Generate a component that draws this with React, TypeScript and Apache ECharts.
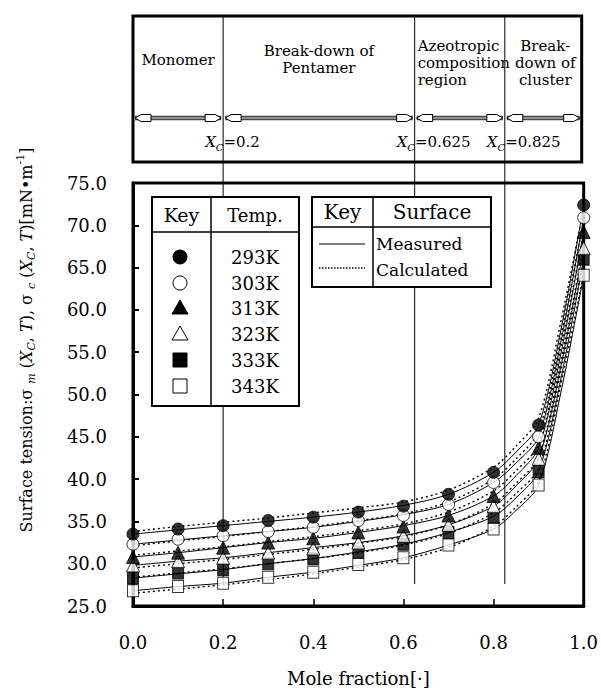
import React, { useEffect, useRef } from "react";
import * as echarts from "echarts";

// ---------- data ----------
const moleFraction = [0, 0.1, 0.2, 0.3, 0.4, 0.5, 0.6, 0.7, 0.8, 0.9, 1.0];
const curveFraction = [0, 0.1, 0.2, 0.3, 0.4, 0.5, 0.6, 0.7, 0.8, 0.85, 0.9, 0.95, 1.0];
const temperatures = ["293K", "303K", "313K", "323K", "333K", "343K"];

// measured points
const meas293 = [33.5, 34.1, 34.5, 35.1, 35.5, 36.1, 36.8, 38.2, 40.8, 46.4, 72.4];
const meas303 = [32.3, 32.9, 33.3, 33.8, 34.3, 35.1, 35.7, 37.0, 39.6, 45.0, 70.9];
const meas313 = [30.8, 31.3, 31.9, 32.5, 33.0, 33.7, 34.4, 35.7, 38.0, 43.7, 69.2];
const meas323 = [29.8, 30.3, 30.7, 31.3, 31.8, 32.5, 33.3, 34.6, 36.8, 42.4, 67.3];
const meas333 = [28.3, 28.9, 29.3, 30.0, 30.6, 31.4, 32.3, 33.7, 35.5, 40.9, 66.0];
const meas343 = [26.8, 27.3, 27.7, 28.4, 29.0, 29.9, 30.7, 32.2, 34.1, 39.3, 64.1];

// measured (solid) curves
const fit293 = [33.5, 34.0, 34.5, 35.0, 35.5, 36.1, 36.9, 38.2, 40.8, 43.2, 46.4, 57.8, 72.4];
const fit303 = [32.3, 32.8, 33.3, 33.8, 34.3, 35.0, 35.8, 37.0, 39.6, 41.9, 45.0, 56.4, 70.9];
const fit313 = [30.8, 31.3, 31.9, 32.5, 33.0, 33.7, 34.5, 35.7, 38.0, 40.4, 43.7, 55.0, 69.2];
const fit323 = [29.8, 30.3, 30.7, 31.3, 31.9, 32.5, 33.3, 34.6, 36.8, 39.2, 42.4, 53.5, 67.3];
const fit333 = [28.3, 28.8, 29.3, 30.0, 30.6, 31.4, 32.3, 33.7, 35.6, 37.8, 40.9, 52.0, 66.0];
const fit343 = [26.8, 27.3, 27.7, 28.4, 29.0, 29.8, 30.7, 32.2, 34.1, 36.3, 39.3, 50.4, 64.1];

// calculated (dotted) curves
const calc293 = [33.8, 34.4, 34.9, 35.4, 36.0, 36.6, 37.3, 38.7, 41.4, 43.9, 47.2, 58.8, 72.0];
const calc303 = [32.1, 32.7, 33.2, 33.8, 34.4, 35.1, 35.9, 37.3, 40.0, 42.4, 45.6, 57.2, 70.6];
const calc313 = [31.0, 31.5, 32.0, 32.6, 33.2, 33.9, 34.7, 36.1, 38.6, 41.0, 44.1, 55.8, 69.0];
const calc323 = [29.5, 30.0, 30.5, 31.1, 31.7, 32.4, 33.2, 34.6, 37.1, 39.5, 42.6, 54.2, 67.5];
const calc333 = [28.4, 28.9, 29.4, 30.0, 30.6, 31.3, 32.2, 33.6, 36.0, 38.3, 41.3, 52.9, 66.0];
const calc343 = [26.5, 27.0, 27.5, 28.1, 28.8, 29.6, 30.5, 31.9, 34.4, 36.7, 39.8, 51.3, 64.3];

const boundaries = [0.2, 0.625, 0.825];
const boundaryLabels = ["=0.2", "=0.625", "=0.825"];

const FONT = "DejaVu Serif";

export default function App() {
  const ref = useRef<HTMLDivElement>(null);

  useEffect(() => {
    const chart = echarts.init(ref.current!, undefined, { renderer: "svg" });

    const defs = [
      { name: temperatures[0], marks: meas293, fit: fit293, calc: calc293, symbol: "circle", filled: true, size: 12 },
      { name: temperatures[1], marks: meas303, fit: fit303, calc: calc303, symbol: "circle", filled: false, size: 12 },
      { name: temperatures[2], marks: meas313, fit: fit313, calc: calc313, symbol: "triangle", filled: true, size: 13 },
      { name: temperatures[3], marks: meas323, fit: fit323, calc: calc323, symbol: "triangle", filled: false, size: 13 },
      { name: temperatures[4], marks: meas333, fit: fit333, calc: calc333, symbol: "rect", filled: true, size: [11, 12] },
      { name: temperatures[5], marks: meas343, fit: fit343, calc: calc343, symbol: "rect", filled: false, size: [11, 12] },
    ];

    const series: any[] = [];
    defs.forEach((d) => {
      series.push({
        type: "line",
        name: d.name + " measured",
        data: curveFraction.map((x, i) => [x, d.fit[i]]),
        smooth: 0.3,
        symbol: "none",
        lineStyle: { color: "#000", width: 1 },
        z: 2,
        silent: true,
      });
      series.push({
        type: "line",
        name: d.name + " calculated",
        data: curveFraction.map((x, i) => [x, d.calc[i]]),
        smooth: 0.3,
        symbol: "none",
        lineStyle: { color: "#000", width: 1.4, type: [2, 3] },
        z: 2,
        silent: true,
      });
    });
    defs
      .slice()
      .reverse()
      .forEach((d) => {
        series.push({
          type: "scatter",
          name: d.name,
          data: moleFraction.map((x, i) => [x, d.marks[i]]),
          symbol: d.symbol,
          symbolSize: d.size,
          itemStyle: { color: d.filled ? "#000" : "#fff", borderColor: "#000", borderWidth: 1 },
          z: 3,
          clip: false,
          silent: true,
        });
      });

    chart.setOption({
      animation: false,
      backgroundColor: "#fff",
      textStyle: { fontFamily: FONT, color: "#000" },
      grid: {
        left: 133,
        right: 12,
        top: 183,
        bottom: 82,
        show: true,
        borderColor: "#000",
        borderWidth: 3,
        backgroundColor: "transparent",
      },
      xAxis: {
        type: "value",
        min: 0,
        max: 1,
        interval: 0.2,
        axisLine: { lineStyle: { color: "#000", width: 3 } },
        axisTick: { inside: true, length: 7, lineStyle: { color: "#000", width: 1.5 } },
        splitLine: { show: false },
        axisLabel: {
          margin: 27,
          fontSize: 18,
          fontFamily: FONT,
          color: "#000",
          formatter: (v: number) => v.toFixed(1),
        },
      },
      yAxis: {
        type: "value",
        min: 25,
        max: 75,
        interval: 5,
        axisLine: { show: true, lineStyle: { color: "#000", width: 3 } },
        axisTick: { show: true, inside: true, length: 6, lineStyle: { color: "#000", width: 2 } },
        splitLine: { show: false },
        axisLabel: {
          margin: 26,
          fontSize: 18,
          fontFamily: FONT,
          color: "#000",
          formatter: (v: number) => v.toFixed(1),
        },
      },
      series,
    });

    const px = (v: number) => chart.convertToPixel({ xAxisIndex: 0 }, v) as number;
    const x0 = px(0);
    const x1 = px(1) - 2;
    const bx = boundaries.map(px);
    const edges = [x0, ...bx, x1];
    const boxTop = 16;
    const boxBottom = 162;
    const arrowY = 118;

    const g: any[] = [];

    // vertical boundary lines
    bx.forEach((x) => {
      g.push({
        type: "line",
        z: 1,
        shape: { x1: x, y1: boxTop, x2: x, y2: 584 },
        style: { stroke: "#000", lineWidth: 1 },
        silent: true,
      });
    });

    // top box
    g.push({
      type: "rect",
      z: 5,
      shape: { x: x0, y: boxTop, width: x1 - x0, height: boxBottom - boxTop },
      style: { fill: "transparent", stroke: "#000", lineWidth: 3 },
      silent: true,
    });

    // double arrows
    for (let i = 0; i < edges.length - 1; i++) {
      const a = edges[i] + 2;
      const b = edges[i + 1] - 2;
      g.push({
        type: "line",
        z: 6,
        shape: { x1: a, y1: arrowY, x2: b, y2: arrowY },
        style: { stroke: "#444", lineWidth: 4.5 },
        silent: true,
      });
      g.push({
        type: "line",
        z: 6,
        shape: { x1: a, y1: arrowY, x2: b, y2: arrowY },
        style: { stroke: "#aaa", lineWidth: 1.5 },
        silent: true,
      });
      g.push({
        type: "polygon",
        z: 7,
        shape: { points: [[a, arrowY], [a + 6, arrowY - 3.5], [a + 16, arrowY - 3.5], [a + 16, arrowY + 3.5], [a + 6, arrowY + 3.5]] },
        style: { fill: "#fff", stroke: "#000", lineWidth: 1 },
        silent: true,
      });
      g.push({
        type: "polygon",
        z: 7,
        shape: { points: [[b, arrowY], [b - 6, arrowY - 3.5], [b - 16, arrowY - 3.5], [b - 16, arrowY + 3.5], [b - 6, arrowY + 3.5]] },
        style: { fill: "#fff", stroke: "#000", lineWidth: 1 },
        silent: true,
      });
    }

    const boxText = (text: string, x: number, y: number, align = "center") => ({
      type: "text",
      z: 8,
      x,
      y,
      style: {
        text,
        fontFamily: FONT,
        fontSize: 15,
        lineHeight: 17,
        fill: "#000",
        align,
        verticalAlign: "middle",
      },
      silent: true,
    });
    g.push(boxText("Monomer", (edges[0] + edges[1]) / 2, 60));
    g.push(boxText("Break-down of\nPentamer", (edges[1] + edges[2]) / 2, 59));
    g.push(boxText("Azeotropic\ncomposition\nregion", edges[2] + 3, 63, "left"));
    g.push(boxText("Break-\ndown of\ncluster", (edges[3] + edges[4]) / 2 + 2, 63));

    // X_C labels
    bx.forEach((x, i) => {
      g.push({
        type: "text",
        z: 8,
        x: x - 18,
        y: 142,
        style: {
          text: "{i|X}{s|C}{n|" + boundaryLabels[i] + "}",
          align: "left",
          verticalAlign: "middle",
          fill: "#000",
          rich: {
            i: { fontFamily: FONT, fontSize: 15, fontStyle: "italic", lineHeight: 20 },
            s: { fontFamily: FONT, fontSize: 10, fontStyle: "italic", lineHeight: 9, verticalAlign: "bottom" },
            n: { fontFamily: FONT, fontSize: 15, lineHeight: 20 },
          },
        },
        silent: true,
      });
    });

    // Left legend (temperature keys)
    const lx = 152, ly = 197, lw = 147, lh = 209, lcol = 211, lhead = 232;
    g.push({
      type: "rect",
      z: 20,
      shape: { x: lx, y: ly, width: lw, height: lh },
      style: { fill: "#fff", stroke: "#000", lineWidth: 2 },
      silent: true,
    });
    g.push({ type: "line", z: 21, shape: { x1: lx, y1: lhead, x2: lx + lw, y2: lhead }, style: { stroke: "#000", lineWidth: 1.5 }, silent: true });
    g.push({ type: "line", z: 21, shape: { x1: lcol, y1: ly, x2: lcol, y2: ly + lh }, style: { stroke: "#000", lineWidth: 1.5 }, silent: true });
    const legText = (text: string, x: number, y: number, size: number, align = "center") => ({
      type: "text",
      z: 22,
      x,
      y,
      style: { text, fontFamily: FONT, fontSize: size, fill: "#000", align, verticalAlign: "middle" },
      silent: true,
    });
    g.push(legText("Key", (lx + lcol) / 2, 215, 19));
    g.push(legText("Temp.", (lcol + lx + lw) / 2, 215, 18));
    const rowY = [257, 283, 308, 334, 360, 386];
    const sx = 180;
    defs.forEach((d, i) => {
      const y = rowY[i];
      const style = { fill: d.filled ? "#000" : "#fff", stroke: "#000", lineWidth: 1 };
      if (d.symbol === "circle") {
        g.push({ type: "circle", z: 22, shape: { cx: sx, cy: y, r: 7 }, style, silent: true });
      } else if (d.symbol === "triangle") {
        g.push({ type: "polygon", z: 22, shape: { points: [[sx, y - 8], [sx + 8, y + 6], [sx - 8, y + 6]] }, style, silent: true });
      } else {
        g.push({ type: "rect", z: 22, shape: { x: sx - 7, y: y - 7, width: 14, height: 14 }, style, silent: true });
      }
      g.push(legText(d.name, (lcol + lx + lw) / 2, y, 18));
    });

    // Right legend (surface keys)
    const rx = 312, ry = 197, rw = 179, rh = 90, rcol = 373, rhead = 227;
    g.push({
      type: "rect",
      z: 20,
      shape: { x: rx, y: ry, width: rw, height: rh },
      style: { fill: "#fff", stroke: "#000", lineWidth: 2 },
      silent: true,
    });
    g.push({ type: "line", z: 21, shape: { x1: rx, y1: rhead, x2: rx + rw, y2: rhead }, style: { stroke: "#000", lineWidth: 1.5 }, silent: true });
    g.push({ type: "line", z: 21, shape: { x1: rcol, y1: ry, x2: rcol, y2: ry + rh }, style: { stroke: "#000", lineWidth: 1.5 }, silent: true });
    g.push(legText("Key", (rx + rcol) / 2, 212, 20));
    g.push(legText("Surface", (rcol + rx + rw) / 2, 212, 20));
    g.push({ type: "line", z: 22, shape: { x1: 319, y1: 244, x2: 365, y2: 244 }, style: { stroke: "#000", lineWidth: 1 }, silent: true });
    g.push({ type: "line", z: 22, shape: { x1: 319, y1: 268, x2: 365, y2: 268 }, style: { stroke: "#000", lineWidth: 1.3, lineDash: [1.5, 1.5] }, silent: true });
    g.push(legText("Measured", 376, 244, 17, "left"));
    g.push(legText("Calculated", 376, 270, 17, "left"));

    // Y axis title (rotated)
    g.push({
      type: "text",
      z: 10,
      x: 26,
      y: 340,
      rotation: Math.PI / 2,
      style: {
        text:
          "Surface tension:σ {sub|m} ({i|X}{isub|C}, {i|T}), σ {sub|c} ({i|X}{isub|C}, {i|T})[mN•m{sup|-1}]",
        fontFamily: FONT,
        fontSize: 16,
        lineHeight: 22,
        fill: "#000",
        align: "center",
        verticalAlign: "middle",
        rich: {
          sub: { fontFamily: FONT, fontSize: 11, fontStyle: "italic", lineHeight: 10, verticalAlign: "bottom" },
          i: { fontFamily: FONT, fontSize: 16, fontStyle: "italic", lineHeight: 22 },
          isub: { fontFamily: FONT, fontSize: 11, fontStyle: "italic", lineHeight: 10, verticalAlign: "bottom" },
          sup: { fontFamily: FONT, fontSize: 11, lineHeight: 10, verticalAlign: "top" },
        },
      },
      silent: true,
    });

    // X axis title
    g.push({
      type: "text",
      z: 10,
      x: px(0.5),
      y: 678,
      style: {
        text: "Mole fraction[·]",
        fontFamily: FONT,
        fontSize: 18,
        fill: "#000",
        align: "center",
        verticalAlign: "middle",
      },
      silent: true,
    });

    chart.setOption({ graphic: g });

    return () => {
      chart.dispose();
    };
  }, []);

  return (
    <div
      ref={ref}
      style={{ position: "fixed", left: 0, top: 0, width: 601, height: 688, background: "#fff" }}
    />
  );
}
